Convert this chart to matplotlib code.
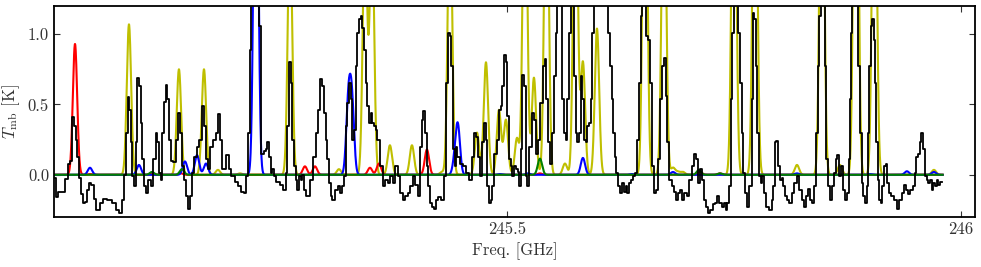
"""
Spectrum 245.0-246.0 GHz: observed Tmb (black) with model lines per species.
"""
import numpy as np
import matplotlib
matplotlib.use("Agg")
import matplotlib.pyplot as plt

plt.rcParams.update({
    "font.family": "serif",
    "font.serif": ["cmr10", "DejaVu Serif"],
    "mathtext.fontset": "cm",
    "axes.formatter.use_mathtext": True,
    "xtick.direction": "in",
    "ytick.direction": "in",
    "xtick.top": True,
    "ytick.right": True,
    "axes.linewidth": 1.3,
})

F0 = 245.0  # GHz, frequency offsets below are MHz above this

# observed spectrum (offset MHz, Tmb K)
obs_mhz = [
    1.1, 3.3, 6.6, 11.0, 14.3, 16.5, 18.7, 20.9, 23.2, 25.4, 26.5, 28.7, 30.9, 33.1, 36.4,
    37.5, 39.7, 43.0, 45.2, 48.5, 52.9, 56.2, 61.7, 67.3, 70.6, 73.9, 76.1, 78.3, 80.5, 82.7,
    83.8, 86.0, 87.1, 89.3, 91.5, 92.6, 94.8, 97.0, 98.1, 100.3, 102.5, 105.8, 108.0, 111.4,
    113.6, 114.7, 116.9, 119.1, 120.2, 122.4, 124.6, 125.7, 127.9, 130.1, 133.4, 135.6, 137.8,
    140.0, 142.2, 144.4, 146.6, 148.8, 151.0, 153.2, 156.6, 158.8, 162.1, 164.3, 166.5, 168.7,
    170.9, 174.2, 177.5, 179.7, 181.9, 185.2, 186.3, 188.5, 191.8, 194.0, 197.3, 201.8, 205.1,
    208.4, 210.6, 212.8, 215.0, 217.2, 218.3, 220.5, 223.8, 226.0, 227.1, 229.3, 230.4, 232.6,
    234.8, 235.9, 238.1, 240.3, 241.4, 243.7, 247.0, 251.4, 254.7, 256.9, 258.0, 260.2, 262.4,
    263.5, 265.7, 267.9, 269.0, 271.2, 273.4, 274.5, 276.7, 280.0, 284.4, 287.8, 290.0, 292.2,
    295.5, 296.6, 298.8, 301.0, 302.1, 304.3, 306.5, 307.6, 312.0, 314.2, 317.5, 318.6, 320.8,
    323.0, 324.1, 326.3, 328.5, 329.6, 331.9, 334.1, 335.2, 337.4, 339.6, 340.7, 342.9, 345.1,
    346.2, 348.4, 350.6, 351.7, 353.9, 356.1, 357.2, 361.6, 363.8, 367.1, 369.3, 372.6, 374.9,
    378.2, 380.4, 383.7, 385.9, 389.2, 391.4, 394.7, 396.9, 400.2, 402.4, 405.7, 406.8, 407.9,
    410.1, 412.3, 413.4, 415.6, 417.8, 420.1, 422.3, 425.6, 428.9, 431.1, 433.3, 435.5, 437.7,
    438.8, 441.0, 443.2, 444.3, 445.4, 449.8, 453.1, 456.4, 459.7, 462.0, 464.2, 466.4, 468.6,
    470.8, 473.0, 475.2, 477.4, 478.5, 480.7, 482.9, 484.0, 487.3, 489.5, 491.7, 493.9, 495.0,
    497.2, 499.4, 500.5, 502.7, 504.9, 506.1, 508.3, 510.5, 512.7, 513.8, 516.0, 517.1, 519.3,
    521.5, 522.6, 524.8, 527.0, 528.1, 530.3, 532.5, 534.7, 538.0, 540.2, 542.4, 543.5, 545.7,
    549.0, 550.1, 552.4, 554.6, 555.7, 560.1, 561.2, 563.4, 565.6, 566.7, 568.9, 571.1, 572.2,
    574.4, 576.6, 577.7, 579.9, 582.1, 583.2, 585.4, 587.6, 588.7, 590.9, 593.1, 594.2, 596.5,
    602.0, 609.7, 611.9, 614.1, 616.3, 617.4, 619.6, 620.7, 622.9, 625.1, 627.3, 629.5, 631.7,
    632.9, 635.0, 637.2, 639.5, 641.7, 643.9, 646.1, 648.3, 649.4, 652.7, 653.8, 656.0, 658.2,
    660.4, 662.6, 664.8, 667.0, 670.3, 671.4, 673.6, 675.8, 676.9, 680.2, 682.5, 684.7, 686.9,
    689.1, 692.4, 693.5, 696.8, 699.0, 702.3, 704.5, 707.8, 708.9, 711.1, 713.3, 715.5, 717.7,
    719.9, 722.1, 725.5, 727.7, 729.9, 732.1, 735.4, 737.6, 739.8, 742.0, 743.1, 745.3, 747.5,
    748.6, 750.8, 753.0, 755.2, 757.4, 759.6, 760.7, 762.9, 765.1, 768.4, 770.6, 771.8, 772.9,
    775.1, 776.2, 778.4, 780.6, 781.7, 783.9, 787.2, 790.5, 792.7, 793.8, 796.0, 797.1, 799.3,
    801.5, 803.7, 804.8, 807.0, 809.2, 812.5, 814.7, 818.1, 820.3, 823.6, 825.8, 828.0, 830.2,
    832.4, 835.7, 836.8, 840.1, 841.2, 843.4, 844.5, 846.7, 850.0, 851.1, 852.2, 854.4, 857.7,
    858.8, 861.0, 863.3, 864.4, 866.6, 868.8, 871.0, 873.2, 875.4, 877.6, 878.7, 879.8, 880.9,
    886.4, 887.5, 889.7, 891.9, 893.0, 895.2, 897.4, 898.5, 899.6, 901.8, 903.0, 905.2, 906.3,
    907.4, 909.6, 910.7, 912.9, 914.0, 916.2, 918.4, 919.5, 921.7, 925.0, 928.3, 930.5, 933.8,
    936.0, 939.3, 940.4, 942.6, 945.9, 948.2, 950.4, 951.5, 953.7, 955.9, 957.0, 959.2, 961.4,
    963.6, 964.7, 966.9, 969.1, 970.2, 972.4, 974.6, 975.7, 977.9, 979.0,
]
obs_tmb = [
    -0.02, -0.16, -0.12, -0.12, -0.03, 0.08, 0.10, 0.41, 0.35, 0.25, 0.13, -0.02, -0.14, -0.20, -0.19,
    -0.11, -0.06, -0.07, -0.17, -0.25, -0.20, -0.17, -0.18, -0.20, -0.25, -0.27, -0.18, 0.00, 0.30, 0.55,
    0.46, 0.23, -0.01, -0.08, 0.23, 0.69, 0.63, 0.37, 0.11, -0.08, -0.13, -0.04, -0.08, 0.11,
    0.30, 0.23, 0.01, -0.04, 0.30, 0.52, 0.64, 0.54, 0.25, 0.10, 0.09, 0.25, 0.44,
    0.30, 0.06, -0.04, -0.15, -0.24, -0.15, 0.01, 0.13, 0.20, 0.25, 0.49, 0.35, 0.11,
    0.04, 0.20, 0.25, 0.30, 0.43, 0.25, 0.04, 0.04, 0.14, 0.04, -0.01, -0.05, -0.08,
    -0.12, -0.13, -0.01, 0.30, 0.89, 1.30, 1.50, 1.40, 1.30, 1.06, 0.15, 0.15, 0.17,
    0.18, 0.23, 0.13, 0.01, 0.04, -0.01, -0.05, -0.07, -0.11, 0.01, 0.35, 0.80, 0.65,
    0.25, 0.06, -0.04, -0.11, -0.01, -0.04, 0.00, -0.11, -0.15, -0.04, 0.13, 0.30, 0.46,
    0.68, 0.63, 0.44, 0.25, 0.11, -0.06, -0.15, -0.18, -0.11, -0.08, -0.13, -0.08, -0.01,
    0.35, 0.51, 0.65, 0.54, 0.25, 0.32, 0.77, 1.01, 1.11, 1.13, 1.04, 0.89, 0.65,
    0.49, 0.37, 0.44, 0.37, 0.35, 0.32, 0.25, 0.06, -0.08, -0.04, -0.06, -0.01, -0.06,
    0.06, -0.01, -0.13, -0.18, -0.15, -0.13, -0.08, -0.01, -0.07, -0.15, 0.20, 0.39, 0.45,
    0.30, 0.06, -0.08, -0.20, -0.23, -0.24, -0.18, -0.16, -0.18, -0.01, 0.65, 1.01, 0.99,
    0.77, 0.18, 0.06, 0.20, 0.13, 0.08, 0.06, 0.01, -0.04, 0.13, 0.30, 0.27, 0.13,
    -0.01, 0.23, 0.37, 0.25, -0.08, -0.20, -0.18, -0.08, 0.15, 0.25, 0.46, 0.49, 0.63,
    0.85, 0.80, 0.42, 0.11, 0.06, -0.01, 0.06, 0.04, 0.02, -0.08, 0.18, 0.71, 0.63,
    -0.01, -0.08, 0.20, 0.20, 0.44, 0.39, 0.15, 0.25, 0.51, 0.77, 0.82, 0.54, 0.23,
    0.08, 0.30, 0.70, 1.01, 1.30, 1.30, 0.54, 0.30, 0.25, 0.54, 1.01, 1.30, 1.30,
    0.70, 0.30, 0.23, 0.30, 0.70, 0.54, 0.25, 0.23, 0.35, 0.37, 0.54, 1.01, 1.30,
    1.30, 1.30, 1.01, 0.77, 0.54, 0.30, 0.13, 0.01, -0.08, -0.13, -0.06, -0.12, -0.08,
    -0.13, -0.06, -0.04, -0.01, 0.01, 0.25, 0.65, 1.13, 1.30, 1.30, 0.99, 0.96, 0.65,
    0.06, -0.13, -0.11, 0.11, 0.54, 0.77, 0.83, 0.56, 0.23, -0.04, -0.08, -0.12, -0.18,
    -0.13, -0.11, -0.18, -0.13, -0.15, -0.04, 0.06, 0.15, 0.11, -0.06, 0.04, -0.04, -0.18,
    -0.23, -0.27, -0.25, -0.21, -0.20, -0.15, -0.20, -0.23, -0.20, -0.25, -0.20, -0.08, 0.54,
    1.01, 1.30, 1.30, 1.01, 0.65, 0.30, 0.01, -0.13, -0.23, -0.08, 0.54, 1.15, 1.11,
    0.77, 0.30, -0.01, -0.06, -0.01, -0.13, -0.23, -0.25, -0.18, -0.08, 0.23, 0.24, 0.06,
    -0.04, -0.02, -0.08, -0.15, -0.18, -0.20, -0.13, -0.06, -0.01, -0.11, -0.18, -0.23, -0.15,
    -0.10, -0.18, -0.20, -0.08, 0.30, 0.77, 1.13, 1.30, 1.30, 0.77, 0.11, -0.08, -0.18,
    -0.08, 0.01, 0.11, 0.14, -0.01, 0.06, -0.11, -0.18, -0.13, 0.11, 0.54, 1.01, 1.30,
    1.30, 0.77, 0.30, -0.06, -0.15, -0.20, -0.08, 0.30, 0.77, 1.06, 1.11, 0.96, 0.65,
    0.23, -0.04, -0.18, -0.20, -0.08, 0.06, 0.08, -0.06, -0.13, -0.15, -0.18, -0.24, -0.18,
    -0.13, -0.07, -0.11, -0.14, -0.11, -0.08, 0.01, 0.13, 0.15, 0.23, 0.30, 0.18, -0.01,
    -0.04, -0.06, -0.04, -0.11, -0.06, -0.08, -0.04, -0.07, -0.05, -0.05,
]

# model lines: centre (offset MHz) and peak Tmb (K)
red_mhz = [23.2, 39.7, 108.0, 140.0, 276.7, 287.8, 348.4, 358.3, 411.2, 535.8, 712.2, 734.3]
red_amp = [0.93, 0.005, 0.01, 0.01, 0.06, 0.06, 0.05, 0.08, 0.18, 0.01, 0.02, 0.01]

blue_mhz = [39.7, 93.7, 144.4, 157.7, 167.6, 222.7, 324.6, 328.5, 442.1, 445.4, 491.7,
            522.6, 583.2, 637.2, 682.5, 819.2, 899.6, 940.4, 970.2]
blue_amp = [0.05, 0.07, 0.095, 0.14, 0.08, 3.2, 0.5, 0.5, 0.10, 0.33, 0.005,
            0.01, 0.12, 0.005, 0.02, 0.01, 0.005, 0.025, 0.02]

green_mhz = [108.0, 141.1, 535.8, 711.1, 734.3]
green_amp = [0.02, 0.04, 0.115, 0.035, 0.01]

yellow_mhz = [82.7, 137.8, 165.4, 180.8, 205.1, 260.2, 314.2, 342.9, 350.6, 370.4, 394.7,
              427.8, 436.6, 466.4, 476.3, 490.6, 498.3, 510.5, 519.3, 529.2, 543.0, 563.4,
              575.0, 583.2, 598.7, 651.6, 672.5, 682.5, 688.0, 693.5, 749.7, 772.9, 819.2,
              846.7, 866.6, 884.2, 904.6, 970.2]
yellow_amp = [1.07, 0.75, 0.75, 0.035, 0.01, 1.8, 0.04, 1.8, 1.8, 0.21, 0.21,
              0.02, 2.0, 0.30, 0.80, 0.46, 0.39, 0.26, 2.5, 0.69, 2.5, 0.08,
              2.5, 0.80, 1.04, 3.0, 2.5, 0.05, 0.02, 0.02, 3.0, 3.0, 0.07,
              3.0, 0.07, 4.0, 3.0, 0.035]

SIGMA_MHZ = 2.4


def model(grid_mhz, centres, amps):
    spec = np.zeros_like(grid_mhz)
    for c, a in zip(centres, amps):
        spec += a * np.exp(-0.5 * ((grid_mhz - c) / SIGMA_MHZ) ** 2)
    return spec


grid = np.arange(0.0, 980.0, 0.2)
freq_grid = F0 + grid / 1000.0

fig = plt.figure(figsize=(9.81, 2.67), dpi=100)
ax = fig.add_axes([0.055, 0.1873, 0.9388, 0.7903])

for centres, amps, col in [(yellow_mhz, yellow_amp, "y"), (red_mhz, red_amp, "r"),
                           (blue_mhz, blue_amp, "b"), (green_mhz, green_amp, "g")]:
    ax.plot(freq_grid, model(grid, centres, amps), color=col, lw=1.5)

ax.plot(F0 + np.array(obs_mhz) / 1000.0, obs_tmb, color="k", lw=1.3,
        drawstyle="steps-mid")

ax.set_xlim(245.0, 246.0154)
ax.set_ylim(-0.3, 1.2)
ax.set_xticks([245.5, 246.0])
ax.set_xticklabels(["245.5", "246"])
ax.set_yticks([0.0, 0.5, 1.0])
ax.set_yticklabels(["0.0", "0.5", "1.0"])
ax.tick_params(labelsize=12, length=4, width=0.8, colors="#333333", labelcolor="#333333")
ax.set_xlabel("Freq. [GHz]", fontsize=12, color="#333333")
ax.set_ylabel(r"$T_{\rm mb}$ [K]", fontsize=12, color="#333333")

fig.savefig("out.png", dpi=100)
